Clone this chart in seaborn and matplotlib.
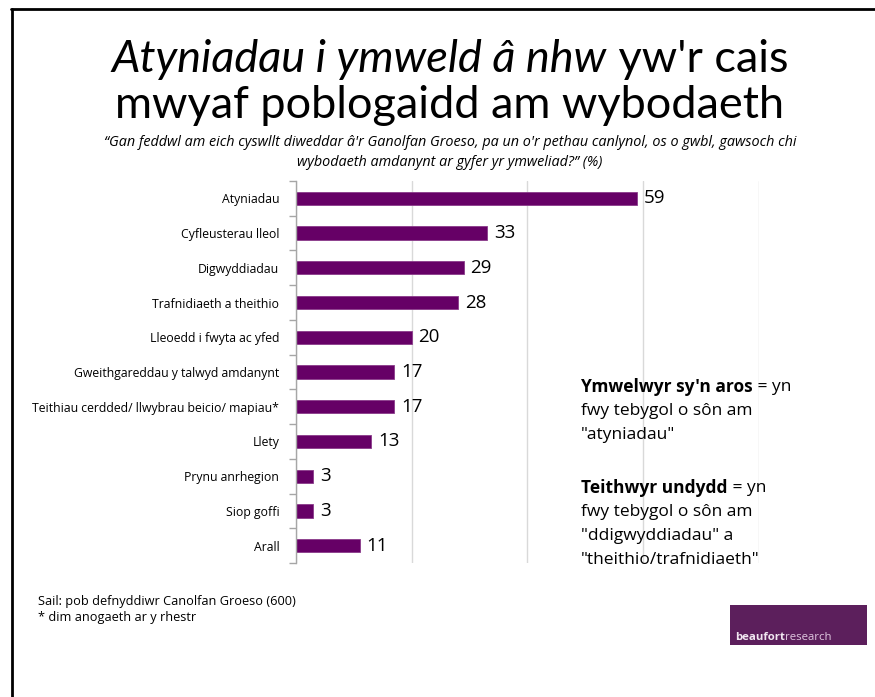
import matplotlib
matplotlib.use("Agg")
import matplotlib.pyplot as plt
import seaborn as sns
import pandas as pd
import numpy as np
from matplotlib.lines import Line2D
from matplotlib.patches import Rectangle

categories = ["Atyniadau", "Cyfleusterau lleol", "Digwyddiadau", "Trafnidiaeth a theithio",
              "Lleoedd i fwyta ac yfed", "Gweithgareddau y talwyd amdanynt",
              "Teithiau cerdded/ llwybrau beicio/ mapiau*", "Llety", "Prynu anrhegion",
              "Siop goffi", "Arall"]
values = [59, 33, 29, 28, 20, 17, 17, 13, 3, 3, 11]
x_ticks = [0, 20, 40, 60, 80]

sns.set_theme(style="white")
FONT = "Lato"
plt.rcParams['font.family'] = [FONT, 'DejaVu Sans']
plt.rcParams['text.color'] = 'black'

df = pd.DataFrame({"cat": categories, "val": values})

fig = plt.figure(figsize=(8.75, 6.97), dpi=100)
W, H = 875, 697
ax = fig.add_axes([296 / W, 1 - 563 / H, (758.5 - 296) / W, (563 - 181) / H])

sns.barplot(data=df, y="cat", x="val", orient="h", color="#660066", width=0.38,
            saturation=1, ax=ax, edgecolor="#8a3a8a", linewidth=0.6)

ax.set_xlim(0, 80)
ax.set_xticks(x_ticks)
ax.set_xticklabels([])
ax.tick_params(axis="x", length=0)
ax.grid(axis="x", color="#d9d9d9", linewidth=1)
ax.set_axisbelow(True)
ax.set_xlabel("")
ax.set_ylabel("")
ax.set_ylim(len(categories) - 0.5, -0.5)
for s in ["top", "right", "bottom"]:
    ax.spines[s].set_visible(False)
ax.spines["left"].set_color("#a6a6a6")
ax.spines["left"].set_linewidth(1)
ax.tick_params(axis="y", which="major", length=0, pad=12, labelsize=8.8)
for lbl in ax.get_yticklabels():
    lbl.set_fontfamily(["Open Sans", "DejaVu Sans"])
    lbl.set_color("#000000")
ax.set_yticks(np.arange(-0.5, len(categories), 1), minor=True)
ax.tick_params(axis="y", which="minor", length=5, color="#a6a6a6", width=1, direction="out", left=True)

for i, v in enumerate(values):
    ax.text(v + 1.2, i, str(v), va="center", ha="left", fontsize=13.5, color="#000000",
            family=["Open Sans", "DejaVu Sans"])

# Title with mixed italic / regular
fig.canvas.draw()
renderer = fig.canvas.get_renderer()
title_fs = 32.5
t1 = fig.text(0, 0, "Atyniadau i ymweld â nhw", fontsize=title_fs, style="italic",
              family=[FONT, "DejaVu Sans"], color="black")
t2 = fig.text(0, 0, " yw'r cais", fontsize=title_fs, family=[FONT, "DejaVu Sans"], color="black")
w1 = t1.get_window_extent(renderer).width
w2 = t2.get_window_extent(renderer).width
total = w1 + w2
cx = 450
ty = 1 - 60 / H
x0 = (cx - total / 2)
t1.set_position((x0 / W, ty))
t2.set_position(((x0 + w1) / W, ty))
t1.set_va("center"); t2.set_va("center")
fig.text(cx / W, 1 - 106 / H, "mwyaf poblogaidd am wybodaeth", fontsize=title_fs,
         ha="center", va="center", family=[FONT, "DejaVu Sans"], color="black")

fam = ["Open Sans", "DejaVu Sans"]
fig.text(cx / W, 1 - 143 / H,
         "\u201cGan feddwl am eich cyswllt diweddar â'r Ganolfan Groeso, pa un o'r pethau canlynol, os o gwbl, gawsoch chi",
         fontsize=10.4, style="italic", ha="center", va="center", family=fam, color="black")
fig.text(cx / W, 1 - 162 / H, "wybodaeth amdanynt ar gyfer yr ymweliad?\u201d (%)",
         fontsize=10.4, style="italic", ha="center", va="center", family=fam, color="black")

# Annotation
ann_x = 581 / W
ann_fs = 12.5
def mixed(y, bold, rest):
    tb = fig.text(ann_x, 1 - y / H, bold, fontsize=ann_fs, weight="bold", va="center", family=fam, color="black")
    wb = tb.get_window_extent(renderer).width
    fig.text(ann_x + wb / W, 1 - y / H, rest, fontsize=ann_fs, va="center", family=fam, color="black")

mixed(387, "Ymwelwyr sy'n aros", " = yn")
fig.text(ann_x, 1 - 411 / H, "fwy tebygol o sôn am", fontsize=ann_fs, va="center", family=fam, color="black")
fig.text(ann_x, 1 - 435 / H, "\"atyniadau\"", fontsize=ann_fs, va="center", family=fam, color="black")
mixed(488, "Teithwyr undydd", " = yn")
fig.text(ann_x, 1 - 512 / H, "fwy tebygol o sôn am", fontsize=ann_fs, va="center", family=fam, color="black")
fig.text(ann_x, 1 - 536 / H, "\"ddigwyddiadau\" a", fontsize=ann_fs, va="center", family=fam, color="black")
fig.text(ann_x, 1 - 560 / H, "\"theithio/trafnidiaeth\"", fontsize=ann_fs, va="center", family=fam, color="black")

# Footer
fig.text(38 / W, 1 - 602 / H, "Sail: pob defnyddiwr Canolfan Groeso (600)", fontsize=9.2,
         va="center", family=fam, color="black")
fig.text(38 / W, 1 - 617 / H, "* dim anogaeth ar y rhestr", fontsize=9.2, va="center", family=fam, color="black")

# Logo
fig.patches.append(Rectangle((730 / W, 1 - 645 / H), 137 / W, 40 / H, transform=fig.transFigure,
                             facecolor="#5c1f5c", edgecolor="none"))
tb = fig.text(735 / W, 1 - 637 / H, "beaufort", fontsize=8.2, weight="bold", color="#f0e6f0",
              va="center", family=fam)
wb = tb.get_window_extent(renderer).width
fig.text(735 / W + wb / W, 1 - 637 / H, "research", fontsize=8.2, color="#e0c8e0",
         va="center", family=fam)

# Frame (left & top)
fig.lines.append(Line2D([11.5 / W, 11.5 / W], [0, 1 - 8.5 / H], transform=fig.transFigure,
                        color="black", linewidth=2))
fig.lines.append(Line2D([11 / W, 1], [1 - 8.5 / H, 1 - 8.5 / H], transform=fig.transFigure,
                        color="black", linewidth=2))

fig.savefig("out.png", dpi=100, facecolor="white")
